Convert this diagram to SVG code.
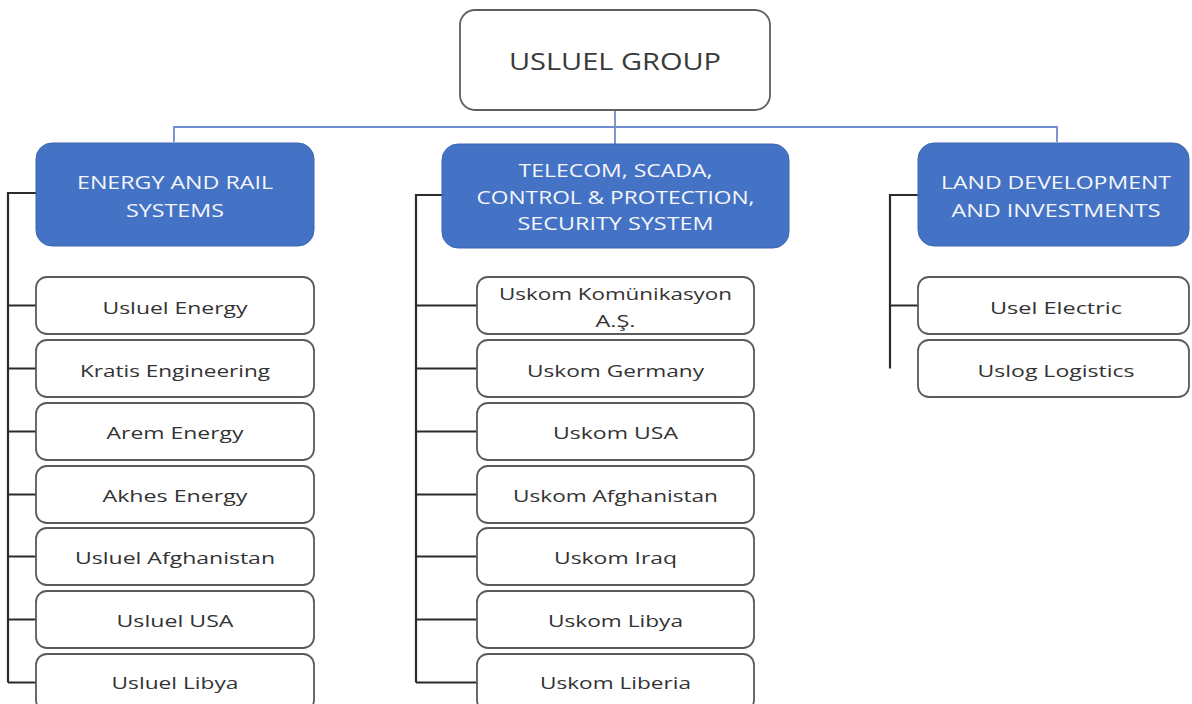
<svg xmlns="http://www.w3.org/2000/svg" width="1192" height="704" viewBox="0 0 1192 704">
<style>
.bg{fill:#ffffff}
.top{fill:#ffffff;stroke:#5f5f5f;stroke-width:1.8}
.blue{fill:#4472c4;stroke:#3d66b0;stroke-width:1}
.child{fill:#ffffff;stroke:#5a5a5a;stroke-width:1.8}
.t{font-family:"Open Sans","Noto Sans","DejaVu Sans",sans-serif;text-anchor:middle}
.tt{font-size:24px;fill:#3a3a3a}
.bt{font-size:18.5px;fill:#f4f6fb}
.ct{font-size:17px;fill:#333333}
.blink{fill:none;stroke:#6f8ccc;stroke-width:1.8}
.klink{fill:none;stroke:#2b2b2b;stroke-width:2.2}
</style>
<rect class="bg" x="0" y="0" width="1192" height="704"/>

<g id="connectors">
  <path class="blink" d="M615 110 V144 M174 142 V127 H1057 V142"/>
  <path class="klink" d="M36 193 H8 V682.5 M8 305.5 H36 M8 368.5 H36 M8 431.5 H36 M8 494.5 H36 M8 556.5 H36 M8 619.5 H36 M8 682.5 H36"/>
  <path class="klink" d="M442 195 H416 V682.5 M416 305.5 H477 M416 368.5 H477 M416 431.5 H477 M416 494.5 H477 M416 556.5 H477 M416 619.5 H477 M416 682.5 H477"/>
  <path class="klink" d="M918 195 H890 V368.5 M890 305.5 H918"/>
</g>

<g id="usluel-group">
  <rect class="top" x="460" y="10" width="310" height="100" rx="15"/>
  <text class="t tt" x="615" y="70" textLength="212" lengthAdjust="spacingAndGlyphs">USLUEL GROUP</text>
</g>

<g id="energy-rail">
  <rect class="blue" x="36" y="143" width="278" height="103" rx="16"/>
  <text class="t bt" x="175" y="189" textLength="196" lengthAdjust="spacingAndGlyphs">ENERGY AND RAIL</text>
  <text class="t bt" x="175" y="217" textLength="98" lengthAdjust="spacingAndGlyphs">SYSTEMS</text>
</g>

<g id="telecom">
  <rect class="blue" x="442" y="144" width="347" height="104" rx="16"/>
  <text class="t bt" x="615.5" y="177" textLength="194" lengthAdjust="spacingAndGlyphs">TELECOM, SCADA,</text>
  <text class="t bt" x="615.5" y="204" textLength="278" lengthAdjust="spacingAndGlyphs">CONTROL &amp; PROTECTION,</text>
  <text class="t bt" x="615.5" y="230" textLength="196" lengthAdjust="spacingAndGlyphs">SECURITY SYSTEM</text>
</g>

<g id="land">
  <rect class="blue" x="918" y="143" width="271" height="103" rx="16"/>
  <text class="t bt" x="1056" y="189" textLength="230" lengthAdjust="spacingAndGlyphs">LAND DEVELOPMENT</text>
  <text class="t bt" x="1056" y="217" textLength="209" lengthAdjust="spacingAndGlyphs">AND INVESTMENTS</text>
</g>

<g id="usluel-energy">
  <rect class="child" x="36" y="277" width="278" height="57" rx="11"/>
  <text class="t ct" x="175" y="314" textLength="145" lengthAdjust="spacingAndGlyphs">Usluel Energy</text>
</g>
<g id="kratis-engineering">
  <rect class="child" x="36" y="340" width="278" height="57" rx="11"/>
  <text class="t ct" x="175" y="377" textLength="190" lengthAdjust="spacingAndGlyphs">Kratis Engineering</text>
</g>
<g id="arem-energy">
  <rect class="child" x="36" y="403" width="278" height="57" rx="11"/>
  <text class="t ct" x="175" y="439" textLength="137" lengthAdjust="spacingAndGlyphs">Arem Energy</text>
</g>
<g id="akhes-energy">
  <rect class="child" x="36" y="466" width="278" height="57" rx="11"/>
  <text class="t ct" x="175" y="502" textLength="145" lengthAdjust="spacingAndGlyphs">Akhes Energy</text>
</g>
<g id="usluel-afghanistan">
  <rect class="child" x="36" y="528" width="278" height="57" rx="11"/>
  <text class="t ct" x="175" y="564" textLength="200" lengthAdjust="spacingAndGlyphs">Usluel Afghanistan</text>
</g>
<g id="usluel-usa">
  <rect class="child" x="36" y="591" width="278" height="57" rx="11"/>
  <text class="t ct" x="175" y="627" textLength="117" lengthAdjust="spacingAndGlyphs">Usluel USA</text>
</g>
<g id="usluel-libya">
  <rect class="child" x="36" y="654" width="278" height="57" rx="11"/>
  <text class="t ct" x="175" y="689" textLength="127" lengthAdjust="spacingAndGlyphs">Usluel Libya</text>
</g>

<g id="uskom-komunikasyon">
  <rect class="child" x="477" y="277" width="277" height="57" rx="11"/>
  <text class="t ct" x="615.5" y="300" textLength="233" lengthAdjust="spacingAndGlyphs">Uskom Komünikasyon</text>
  <text class="t ct" x="615.5" y="327" textLength="40" lengthAdjust="spacingAndGlyphs">A.Ş.</text>
</g>
<g id="uskom-germany">
  <rect class="child" x="477" y="340" width="277" height="57" rx="11"/>
  <text class="t ct" x="615.5" y="377" textLength="177" lengthAdjust="spacingAndGlyphs">Uskom Germany</text>
</g>
<g id="uskom-usa">
  <rect class="child" x="477" y="403" width="277" height="57" rx="11"/>
  <text class="t ct" x="615.5" y="439" textLength="125" lengthAdjust="spacingAndGlyphs">Uskom USA</text>
</g>
<g id="uskom-afghanistan">
  <rect class="child" x="477" y="466" width="277" height="57" rx="11"/>
  <text class="t ct" x="615.5" y="502" textLength="205" lengthAdjust="spacingAndGlyphs">Uskom Afghanistan</text>
</g>
<g id="uskom-iraq">
  <rect class="child" x="477" y="528" width="277" height="57" rx="11"/>
  <text class="t ct" x="615.5" y="564" textLength="123" lengthAdjust="spacingAndGlyphs">Uskom Iraq</text>
</g>
<g id="uskom-libya">
  <rect class="child" x="477" y="591" width="277" height="57" rx="11"/>
  <text class="t ct" x="615.5" y="627" textLength="135" lengthAdjust="spacingAndGlyphs">Uskom Libya</text>
</g>
<g id="uskom-liberia">
  <rect class="child" x="477" y="654" width="277" height="57" rx="11"/>
  <text class="t ct" x="615.5" y="689" textLength="151" lengthAdjust="spacingAndGlyphs">Uskom Liberia</text>
</g>

<g id="usel-electric">
  <rect class="child" x="918" y="277" width="271" height="57" rx="11"/>
  <text class="t ct" x="1056" y="314" textLength="132" lengthAdjust="spacingAndGlyphs">Usel Electric</text>
</g>
<g id="uslog-logistics">
  <rect class="child" x="918" y="340" width="271" height="57" rx="11"/>
  <text class="t ct" x="1056" y="377" textLength="157" lengthAdjust="spacingAndGlyphs">Uslog Logistics</text>
</g>
</svg>
